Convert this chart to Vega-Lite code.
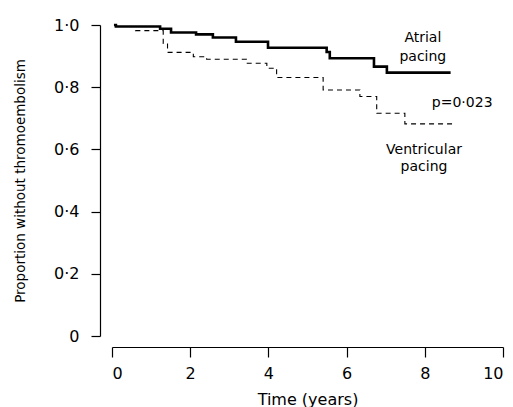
{
  "$schema": "https://vega.github.io/schema/vega-lite/v6.json",
  "width": 391,
  "height": 311,
  "autosize": "none",
  "padding": {"left": 112, "top": 25, "right": 10, "bottom": 71},
  "background": "white",
  "config": {
    "view": {"stroke": null},
    "font": "DejaVu Sans",
    "axis": {"grid": false, "domainColor": "black", "tickColor": "black", "labelColor": "black", "titleColor": "black", "labelFont": "DejaVu Sans", "titleFont": "DejaVu Sans", "titleFontWeight": "normal", "domainWidth": 1.2, "tickWidth": 1.2}
  },
  "datasets": {
    "curves": [
      {"group": "Atrial", "t": 0.05, "p": 1.0},
      {"group": "Atrial", "t": 0.1, "p": 0.995},
      {"group": "Atrial", "t": 1.23, "p": 0.988},
      {"group": "Atrial", "t": 1.51, "p": 0.976},
      {"group": "Atrial", "t": 2.15, "p": 0.970},
      {"group": "Atrial", "t": 2.58, "p": 0.960},
      {"group": "Atrial", "t": 3.17, "p": 0.946},
      {"group": "Atrial", "t": 3.99, "p": 0.927},
      {"group": "Atrial", "t": 5.49, "p": 0.913},
      {"group": "Atrial", "t": 5.57, "p": 0.893},
      {"group": "Atrial", "t": 6.70, "p": 0.866},
      {"group": "Atrial", "t": 7.03, "p": 0.847},
      {"group": "Atrial", "t": 8.66, "p": 0.847},
      {"group": "Ventricular", "t": 0.05, "p": 1.0},
      {"group": "Ventricular", "t": 0.1, "p": 0.995},
      {"group": "Ventricular", "t": 0.6, "p": 0.982},
      {"group": "Ventricular", "t": 1.31, "p": 0.941},
      {"group": "Ventricular", "t": 1.42, "p": 0.912},
      {"group": "Ventricular", "t": 2.08, "p": 0.898},
      {"group": "Ventricular", "t": 2.42, "p": 0.890},
      {"group": "Ventricular", "t": 3.44, "p": 0.877},
      {"group": "Ventricular", "t": 3.96, "p": 0.861},
      {"group": "Ventricular", "t": 4.21, "p": 0.831},
      {"group": "Ventricular", "t": 5.40, "p": 0.791},
      {"group": "Ventricular", "t": 6.34, "p": 0.770},
      {"group": "Ventricular", "t": 6.77, "p": 0.716},
      {"group": "Ventricular", "t": 7.49, "p": 0.682},
      {"group": "Ventricular", "t": 8.73, "p": 0.682}
    ],
    "labels": [
      {"text": "Atrial", "t": 7.95, "p": 0.958, "align": "center"},
      {"text": "pacing", "t": 7.95, "p": 0.897, "align": "center"},
      {"text": "p=0·023", "t": 8.18, "p": 0.749, "align": "left"},
      {"text": "Ventricular", "t": 7.98, "p": 0.598, "align": "center"},
      {"text": "pacing", "t": 7.98, "p": 0.545, "align": "center"}
    ]
  },
  "layer": [
    {
      "data": {"name": "curves"},
      "transform": [{"filter": "datum.group == 'Atrial'"}],
      "mark": {"type": "line", "interpolate": "step-after", "color": "black", "strokeWidth": 2.6},
      "encoding": {
        "x": {"field": "t", "type": "quantitative", "scale": {"domain": [0, 10], "nice": false},
          "axis": {"title": "Time (years)", "values": [0, 2, 4, 6, 8, 10], "offset": 11, "tickSize": 10, "labelPadding": 8, "labelFontSize": 16, "titleFontSize": 16, "titlePadding": 10}},
        "y": {"field": "p", "type": "quantitative", "scale": {"domain": [0, 1], "nice": false},
          "axis": {"title": "Proportion without thromoembolism", "values": [0, 0.2, 0.4, 0.6, 0.8, 1.0], "offset": 12, "tickSize": 9, "labelPadding": 12, "labelFontSize": 16, "titleFontSize": 13.5, "titlePadding": 26,
            "labelExpr": "datum.value == 0 ? '0' : replace(format(datum.value, '.1f'), '.', '·')"}}
      }
    },
    {
      "data": {"name": "curves"},
      "transform": [{"filter": "datum.group == 'Ventricular'"}],
      "mark": {"type": "line", "interpolate": "step-after", "color": "black", "strokeWidth": 1.1, "strokeDash": [5, 4]},
      "encoding": {
        "x": {"field": "t", "type": "quantitative"},
        "y": {"field": "p", "type": "quantitative"}
      }
    },
    {
      "data": {"name": "labels"},
      "transform": [{"filter": "datum.align == 'center'"}],
      "mark": {"type": "text", "align": "center", "baseline": "middle", "fontSize": 14, "color": "black"},
      "encoding": {
        "x": {"field": "t", "type": "quantitative"},
        "y": {"field": "p", "type": "quantitative"},
        "text": {"field": "text"}
      }
    },
    {
      "data": {"name": "labels"},
      "transform": [{"filter": "datum.align == 'left'"}],
      "mark": {"type": "text", "align": "left", "baseline": "middle", "fontSize": 14, "color": "black"},
      "encoding": {
        "x": {"field": "t", "type": "quantitative"},
        "y": {"field": "p", "type": "quantitative"},
        "text": {"field": "text"}
      }
    }
  ]
}
